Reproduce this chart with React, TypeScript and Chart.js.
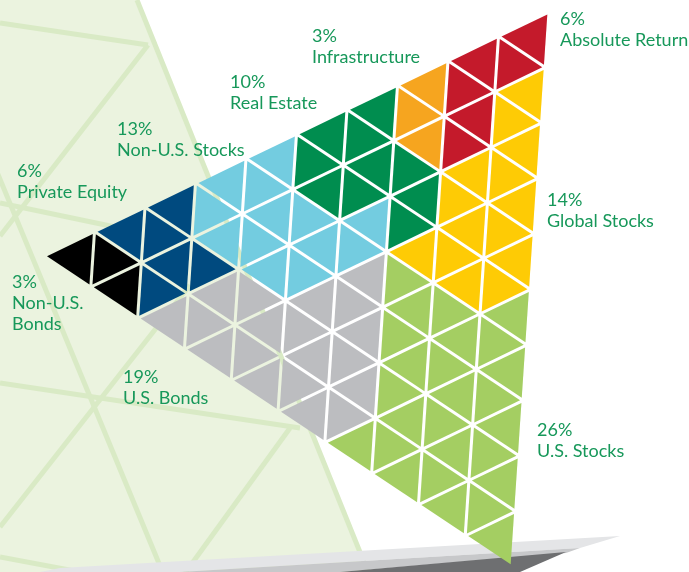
import React, { useEffect, useRef } from 'react';
import { Chart, registerables } from 'chart.js';

Chart.register(...registerables);

// ---------------- DATA ----------------
const categories = [
  'Absolute Return',
  'Infrastructure',
  'Real Estate',
  'Non-U.S. Stocks',
  'Private Equity',
  'Non-U.S. Bonds',
  'U.S. Bonds',
  'U.S. Stocks',
  'Global Stocks',
];
const categoryCodes = ['A', 'I', 'R', 'L', 'P', 'K', 'B', 'S', 'G'];
const percents = [6, 3, 10, 13, 6, 3, 19, 26, 14];
const labelLines = [
  ['Absolute Return'],
  ['Infrastructure'],
  ['Real Estate'],
  ['Non-U.S. Stocks'],
  ['Private Equity'],
  ['Non-U.S.', 'Bonds'],
  ['U.S. Bonds'],
  ['U.S. Stocks'],
  ['Global Stocks'],
];
// Which category owns each of the 100 cells, strip by strip (strip n has 2n+1 cells, top to bottom)
const stripCells = [
  'K',
  'PKK',
  'PPPPB',
  'LLLPBBB',
  'LLLLLBBBB',
  'RRRLLLBBBBB',
  'RRRRLLBBBBBBS',
  'IIIRRRGSSSSSSSS',
  'AAAAGGGGGSSSSSSSS',
  'AAGGGGGGGGSSSSSSSSS',
];

// ---------------- STYLE / LAYOUT ----------------
const categoryColors = [
  '#c41a2b',
  '#f6a51f',
  '#008d4f',
  '#73cce0',
  '#004a7f',
  '#000000',
  '#bcbdc0',
  '#a4ce62',
  '#fecb05',
];
const labelAnchors = [
  { x: 560, y: 12 },
  { x: 312, y: 29 },
  { x: 230, y: 75 },
  { x: 117, y: 122 },
  { x: 17, y: 164 },
  { x: 12, y: 275 },
  { x: 123, y: 370 },
  { x: 537, y: 423 },
  { x: 547, y: 193 },
];
const LABEL_COLOR = '#17985a';
const LABEL_FONT = '18px Lato';
const CAP = 13;
const LINE_GAP = 21;

const W = 689;
const H = 572;
const TRI_A = { x: 44, y: 256 };
const TRI_B = { x: 549, y: 12 };
const TRI_C = { x: 512, y: 567 };
const DIV = 10;
const HALF_GAP = 1.5;

const BG_GREEN = '#ebf3df';
const BG_LINE = '#d9eac5';
const bgRegion = [
  { x: 0, y: 0 },
  { x: 137, y: 0 },
  { x: 368, y: 572 },
  { x: 0, y: 572 },
];
const bgLines = [
  [{ x: 137, y: 0 }, { x: 368, y: 572 }],
  [{ x: 0, y: 23 }, { x: 148, y: 45 }],
  [{ x: 148, y: 45 }, { x: 0, y: 236 }],
  [{ x: 0, y: 203 }, { x: 120, y: 228 }],
  [{ x: -10, y: 155 }, { x: 170, y: 590 }],
  [{ x: 0, y: 383 }, { x: 300, y: 428 }],
  [{ x: 190, y: 285 }, { x: 0, y: 527 }],
  [{ x: 290, y: 428 }, { x: 180, y: 580 }],
  [{ x: 0, y: 557 }, { x: 80, y: 572 }],
];
const platform = [
  { color: '#e4e5e7', pts: [{ x: 40, y: 572 }, { x: 60, y: 568 }, { x: 620, y: 536 }, { x: 580, y: 548 }, { x: 180, y: 572 }] },
  { color: '#c7c8ca', pts: [{ x: 180, y: 572 }, { x: 580, y: 548 }, { x: 566, y: 553 }, { x: 340, y: 572 }] },
  { color: '#6e6f71', pts: [{ x: 340, y: 572 }, { x: 566, y: 552 }, { x: 520, y: 572 }] },
];

type Pt = { x: number; y: number };

function lattice(i: number, j: number): Pt {
  return {
    x: TRI_A.x + ((TRI_B.x - TRI_A.x) * i) / DIV + ((TRI_C.x - TRI_A.x) * j) / DIV,
    y: TRI_A.y + ((TRI_B.y - TRI_A.y) * i) / DIV + ((TRI_C.y - TRI_A.y) * j) / DIV,
  };
}

function cellTriangle(n: number, p: number): Pt[] {
  let verts: Pt[];
  if (p % 2 === 0) {
    const q = p / 2;
    const i = n - q;
    const j = q;
    verts = [lattice(i, j), lattice(i + 1, j), lattice(i, j + 1)];
  } else {
    const q = (p - 1) / 2;
    const i = n - 1 - q;
    const j = q;
    verts = [lattice(i + 1, j), lattice(i, j + 1), lattice(i + 1, j + 1)];
  }
  const c = {
    x: (verts[0].x + verts[1].x + verts[2].x) / 3,
    y: (verts[0].y + verts[1].y + verts[2].y) / 3,
  };
  const side = Math.hypot(verts[1].x - verts[0].x, verts[1].y - verts[0].y);
  const inradius = side / (2 * Math.sqrt(3));
  const f = 1 - HALF_GAP / inradius;
  const shrunk = verts.map((v) => ({ x: c.x + (v.x - c.x) * f, y: c.y + (v.y - c.y) * f }));
  return [...shrunk, shrunk[0]];
}

function polyDataset(pts: Pt[], color: string, order: number, label: string) {
  return {
    label,
    data: [...pts, pts[0]],
    backgroundColor: color,
    borderWidth: 0,
    pointRadius: 0,
    fill: 'shape',
    tension: 0,
    order,
  };
}

function buildDatasets() {
  const ds: any[] = [];
  ds.push(polyDataset(bgRegion, BG_GREEN, 100, 'bg'));
  bgLines.forEach((l, k) => {
    ds.push({
      label: 'bgline' + k,
      data: l,
      borderColor: BG_LINE,
      borderWidth: 5,
      pointRadius: 0,
      fill: false,
      tension: 0,
      order: 90,
    });
  });
  platform.forEach((p, k) => ds.push(polyDataset(p.pts, p.color, 80 - k, 'platform' + k)));
  stripCells.forEach((row, n) => {
    row.split('').forEach((code, p) => {
      const k = categoryCodes.indexOf(code);
      const tri = cellTriangle(n, p);
      ds.push({
        label: categories[k],
        data: tri,
        backgroundColor: categoryColors[k],
        borderWidth: 0,
        pointRadius: 0,
        fill: 'shape',
        tension: 0,
        order: 10,
      });
    });
  });
  return ds;
}

const labelPlugin = {
  id: 'allocLabels',
  afterDatasetsDraw(chart: any) {
    const { ctx } = chart;
    const xs = chart.scales.x;
    const ys = chart.scales.y;
    ctx.save();
    ctx.fillStyle = LABEL_COLOR;
    ctx.font = LABEL_FONT;
    ctx.textAlign = 'left';
    ctx.textBaseline = 'alphabetic';
    categories.forEach((_, k) => {
      const a = labelAnchors[k];
      const lines = [`${percents[k]}%`, ...labelLines[k]];
      lines.forEach((t, li) => {
        ctx.fillText(t, xs.getPixelForValue(a.x), ys.getPixelForValue(a.y + CAP + li * LINE_GAP));
      });
    });
    ctx.restore();
  },
};

export default function App() {
  const ref = useRef<HTMLCanvasElement | null>(null);
  useEffect(() => {
    if (!ref.current) return;
    const chart = new Chart(ref.current, {
      type: 'line',
      data: { datasets: buildDatasets() },
      options: {
        responsive: false,
        maintainAspectRatio: false,
        animation: false,
        events: [],
        layout: { padding: 0 },
        plugins: { legend: { display: false }, tooltip: { enabled: false } },
        scales: {
          x: { type: 'linear', min: 0, max: W, display: false },
          y: { type: 'linear', min: 0, max: H, reverse: true, display: false },
        },
      },
      plugins: [labelPlugin],
    } as any);
    return () => chart.destroy();
  }, []);
  return (
    <div style={{ position: 'fixed', left: 0, top: 0, width: W, height: H, background: '#ffffff' }}>
      <canvas ref={ref} width={W} height={H} style={{ display: 'block', width: W, height: H }} />
    </div>
  );
}
